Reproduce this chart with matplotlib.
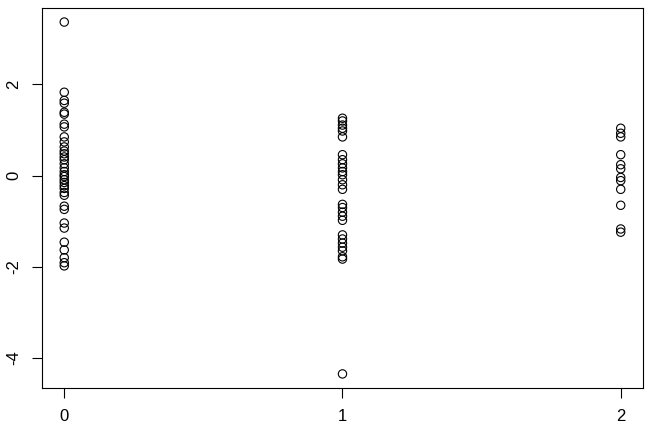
import numpy as np
import matplotlib
matplotlib.use("Agg")
import matplotlib.pyplot as plt

plt.rcParams['font.family'] = ['Liberation Sans', 'DejaVu Sans']

# valeurs, par groupe
groupe0 = [3.37, 1.83, 1.65, 1.59, 1.39, 1.35, 1.13, 1.07, 0.85, 0.74, 0.63, 0.54,
           0.48, 0.41, 0.35, 0.26, 0.17, 0.09, 0.02, -0.02, -0.09, -0.15, -0.22,
           -0.28, -0.37, -0.43, -0.67, -0.74, -1.04, -1.15, -1.46, -1.63, -1.80,
           -1.91, -1.98]
groupe1 = [1.26, 1.20, 1.11, 1.04, 0.98, 0.85, 0.46, 0.35, 0.26, 0.17, 0.09, 0.02,
           -0.09, -0.20, -0.30, -0.63, -0.70, -0.80, -0.89, -0.98, -1.30, -1.39,
           -1.48, -1.57, -1.65, -1.78, -1.83, -4.35]
groupe2 = [1.04, 0.93, 0.85, 0.46, 0.24, 0.15, -0.04, -0.11, -0.30, -0.65, -1.17, -1.24]

x_ticks = [0, 1, 2]
y_ticks = [-4, -2, 0, 2]

xs = np.concatenate([np.full(len(g), i) for i, g in enumerate([groupe0, groupe1, groupe2])])
ys = np.concatenate([groupe0, groupe1, groupe2])

fig = plt.figure(figsize=(6.5, 4.29), dpi=100)
ax = fig.add_axes([0.0646, 0.0956, 0.9246, 0.8858])
ax.scatter(xs, ys, s=36, facecolors='none', edgecolors='black', linewidths=0.8)

# limites façon R (4 % de marge)
xr = xs.max() - xs.min()
yr = ys.max() - ys.min()
ax.set_xlim(xs.min() - 0.04 * xr, xs.max() + 0.04 * xr)
ax.set_ylim(ys.min() - 0.04 * yr, ys.max() + 0.04 * yr)

ax.set_xticks(x_ticks)
ax.set_yticks(y_ticks)
ax.set_yticklabels([str(v) for v in y_ticks], rotation=90, va='center')
ax.tick_params(length=7, width=0.8, labelsize=12, pad=8)
for s in ax.spines.values():
    s.set_linewidth(0.8)

fig.savefig("out.png", dpi=100)
